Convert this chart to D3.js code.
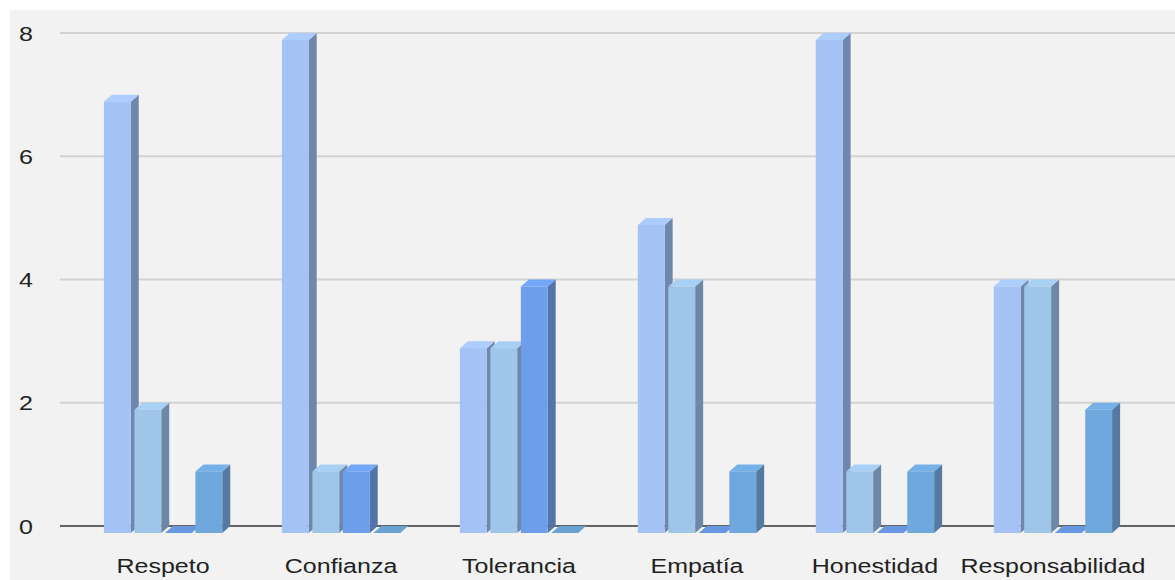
<!DOCTYPE html>
<html>
<head>
<meta charset="utf-8">
<script src="https://cdn.jsdelivr.net/npm/d3@7"></script>
<style>
  html, body { margin: 0; padding: 0; background: #ffffff; }
  svg { display: block; font-family: "Liberation Sans", Arial, sans-serif; }
</style>
</head>
<body>
<svg id="chart" width="1175" height="580"></svg>
<script>
// Values per category, one array per series
const categories = ["Respeto", "Confianza", "Tolerancia", "Empatía", "Honestidad", "Responsabilidad"];
const serie1 = [7, 8, 3, 5, 8, 4];
const serie2 = [2, 1, 3, 4, 1, 4];
const serie3 = [0, 1, 4, 0, 0, 0];
const serie4 = [1, 0, 0, 1, 1, 2];
const yTicks = [0, 2, 4, 6, 8];

const series = [serie1, serie2, serie3, serie4];
const fronts = ["#a4c2f4", "#9fc5e8", "#6d9eeb", "#6fa8dc"];

const svg = d3.select("#chart");
const W = 1175, H = 580;

// panel background
svg.append("rect").attr("x", 10).attr("y", 10).attr("width", W - 10).attr("height", H - 10).attr("fill", "#f2f2f2");

const depthX = 8, depthY = 7;
const y = d3.scaleLinear().domain([0, 8]).range([526, 33]);
const x0 = d3.scaleBand().domain(categories).range([74, 1142]).paddingInner(0.335).paddingOuter(0.168);
const x1 = d3.scaleBand().domain(d3.range(4)).range([0, x0.bandwidth()]).paddingInner(0.12);

// grid lines
const grid = svg.append("g");
yTicks.forEach(t => {
  grid.append("line")
    .attr("x1", 60).attr("x2", W)
    .attr("y1", y(t)).attr("y2", y(t))
    .attr("stroke", t === 0 ? "#333333" : "#d2d2d2")
    .attr("stroke-width", t === 0 ? 1.5 : 2);
});

// text is drawn slightly widened
const stretch = "scale(1.25,1)";

// y axis labels
const yAxis = d3.axisLeft(y).tickValues(yTicks).tickSize(0).tickPadding(0);
const ya = svg.append("g").attr("transform", "translate(26,0)").call(yAxis);
ya.select(".domain").remove();
ya.selectAll("text").attr("font-size", 20).attr("fill", "#222").attr("text-anchor", "middle")
  .attr("x", 0).attr("dy", "0.36em").attr("transform", stretch);

// x axis labels
const xAxis = d3.axisBottom(x0).tickSize(0).tickPadding(0);
const xa = svg.append("g").attr("transform", "translate(0,573)").call(xAxis);
xa.select(".domain").remove();
xa.selectAll("text").attr("font-size", 20).attr("fill", "#222").attr("y", 0).attr("dy", 0)
  .attr("transform", stretch);

// 3D bars
const bars = svg.append("g");
categories.forEach((c, ci) => {
  series.forEach((s, si) => {
    const v = s[ci];
    const xl = x0(c) + x1(si);
    const w = x1.bandwidth();
    const yb = y(0) + depthY;
    const yt = y(v) + depthY;
    const col = d3.color(fronts[si]);
    const g = bars.append("g");
    // right side
    g.append("path")
      .attr("d", `M${xl + w},${yt} L${xl + w + depthX},${yt - depthY} L${xl + w + depthX},${yb - depthY} L${xl + w},${yb} Z`)
      .attr("fill", d3.interpolateRgb(col, "#3a4a66")(0.5));
    // top
    g.append("path")
      .attr("d", `M${xl},${yt} L${xl + depthX},${yt - depthY} L${xl + w + depthX},${yt - depthY} L${xl + w},${yt} Z`)
      .attr("fill", v === 0 ? col.darker(0.1) : col.brighter(0.15));
    // front
    if (v > 0) {
      g.append("rect").attr("x", xl).attr("y", yt).attr("width", w).attr("height", yb - yt).attr("fill", col);
    }
  });
});
</script>
</body>
</html>
